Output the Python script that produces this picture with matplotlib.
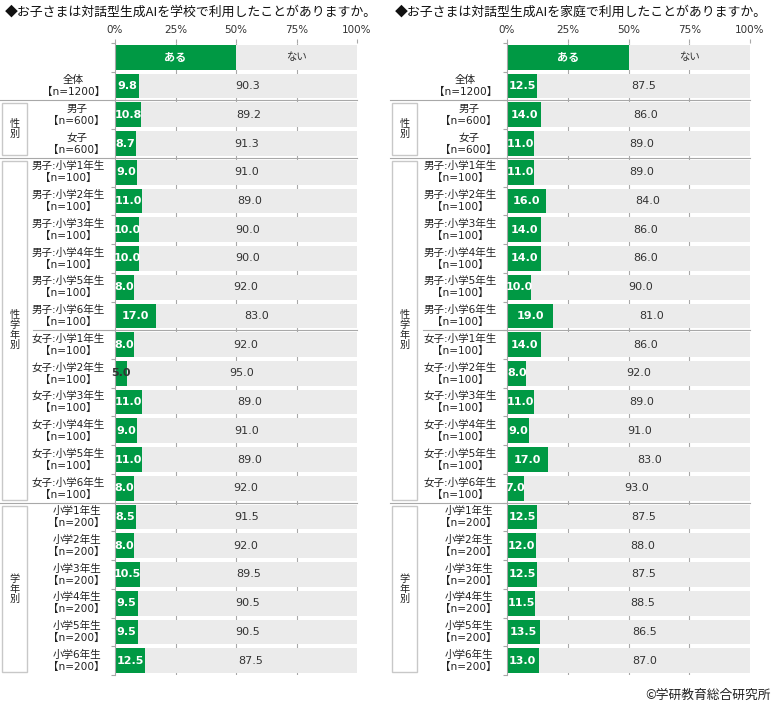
import matplotlib
matplotlib.use('Agg')
import matplotlib.pyplot as plt
from matplotlib.patches import Rectangle
from matplotlib.lines import Line2D
import matplotlib.transforms as mtransforms

plt.rcParams['font.family'] = ['Noto Sans CJK JP', 'DejaVu Sans']

W, H = 777, 708

categories = [
    '全体\n【n=1200】', '男子\n【n=600】', '女子\n【n=600】',
    '男子:小学1年生\n【n=100】', '男子:小学2年生\n【n=100】', '男子:小学3年生\n【n=100】',
    '男子:小学4年生\n【n=100】', '男子:小学5年生\n【n=100】', '男子:小学6年生\n【n=100】',
    '女子:小学1年生\n【n=100】', '女子:小学2年生\n【n=100】', '女子:小学3年生\n【n=100】',
    '女子:小学4年生\n【n=100】', '女子:小学5年生\n【n=100】', '女子:小学6年生\n【n=100】',
    '小学1年生\n【n=200】', '小学2年生\n【n=200】', '小学3年生\n【n=200】',
    '小学4年生\n【n=200】', '小学5年生\n【n=200】', '小学6年生\n【n=200】',
]
school_yes = [9.8, 10.8, 8.7, 9.0, 11.0, 10.0, 10.0, 8.0, 17.0,
              8.0, 5.0, 11.0, 9.0, 11.0, 8.0, 8.5, 8.0, 10.5, 9.5, 9.5, 12.5]
school_no = [90.3, 89.2, 91.3, 91.0, 89.0, 90.0, 90.0, 92.0, 83.0,
             92.0, 95.0, 89.0, 91.0, 89.0, 92.0, 91.5, 92.0, 89.5, 90.5, 90.5, 87.5]
home_yes = [12.5, 14.0, 11.0, 11.0, 16.0, 14.0, 14.0, 10.0, 19.0,
            14.0, 8.0, 11.0, 9.0, 17.0, 7.0, 12.5, 12.0, 12.5, 11.5, 13.5, 13.0]
home_no = [87.5, 86.0, 89.0, 89.0, 84.0, 86.0, 86.0, 90.0, 81.0,
           86.0, 92.0, 89.0, 91.0, 83.0, 93.0, 87.5, 88.0, 87.5, 88.5, 86.5, 87.0]

header_labels = ['ある', 'ない']
header_shares = [50, 50]
xticks = [0, 25, 50, 75, 100]
xtick_labels = ['0%', '25%', '50%', '75%', '100%']
titles = ['◆お子さまは対話型生成AIを学校で利用したことがありますか。',
          '◆お子さまは対話型生成AIを家庭で利用したことがありますか。']
# (label, first row index, last row index)
groups = [('性\n別', 1, 2), ('性\n学\n年\n別', 3, 14), ('学\n年\n別', 15, 20)]
full_separators = [0, 2, 14]     # line after these rows, full width
partial_separators = [8]         # line after these rows, from label area

GREEN = '#009944'
GRAY = '#EBEBEB'
LINE = '#A8A8A8'
TXT = '#333333'
NUMFONT = ['DejaVu Sans']
LABFONT = ['DejaVu Sans', 'Noto Sans CJK JP']

fig = plt.figure(figsize=(W / 100, H / 100), dpi=100)


def fx(px):
    return px / W


def fy(py):
    return 1 - py / H


TOP, BOTTOM = 43, 675


def panel(offset, ax_left, ax_width, yes, no, title):
    ax = fig.add_axes([fx(ax_left), fy(BOTTOM), fx(ax_width), (BOTTOM - TOP) / H])
    n = len(yes)
    ys = list(range(1, n + 1))
    bh = 0.86
    # grid lines behind bars
    ax.vlines(xticks[1:-1], -0.5, n + 0.5, color=LINE, lw=0.8, zorder=0)
    # header row
    ax.barh(0, header_shares[0], height=bh, color=GREEN, zorder=2)
    ax.barh(0, header_shares[1], left=header_shares[0], height=bh, color=GRAY, zorder=2)
    ax.text(header_shares[0] / 2, 0, header_labels[0], ha='center', va='center',
            color='white', fontsize=8, fontweight='bold', zorder=3)
    ax.text(header_shares[0] + header_shares[1] / 2, 0, header_labels[1], ha='center',
            va='center', color=TXT, fontsize=7.5, zorder=3)
    # data rows
    ax.barh(ys, yes, height=bh, color=GREEN, zorder=2)
    ax.barh(ys, no, left=yes, height=bh, color=GRAY, zorder=2)
    for y, a, b in zip(ys, yes, no):
        ax.text(a / 2, y, f'{a:.1f}', ha='center', va='center', fontsize=8,
                family=NUMFONT, fontweight='bold',
                color='white' if a >= 6 else TXT, zorder=3)
        ax.text(a + b / 2, y, f'{b:.1f}', ha='center', va='center', fontsize=8,
                family=NUMFONT, color=TXT, zorder=3)
    ax.set_xlim(0, 100)
    ax.set_ylim(n + 0.5, -0.5)
    ax.xaxis.tick_top()
    ax.set_xticks(xticks)
    ax.set_xticklabels(xtick_labels, family=NUMFONT)
    ax.tick_params(axis='x', direction='out', length=3, color=LINE, labelsize=7.5,
                   labelcolor=TXT, pad=3, width=0.8)
    ax.set_yticks([])
    ax.set_yticks([i + 0.5 for i in range(-1, n + 1)], minor=True)
    ax.tick_params(axis='y', which='minor', direction='out', length=3, color=LINE, width=0.8)
    for s in ['top', 'right', 'bottom']:
        ax.spines[s].set_visible(False)
    ax.spines['left'].set_color(LINE)
    ax.spines['left'].set_linewidth(0.8)
    ax.patch.set_alpha(0)

    tr = mtransforms.blended_transform_factory(fig.transFigure, ax.transData)
    # category labels
    for y, lab in zip(ys, categories):
        ax.text(fx(ax_left - 10), y, lab, transform=tr, ha='right', va='center',
                multialignment='center', fontsize=7.6, family=LABFONT,
                color='#222222', linespacing=1.25)
    # separators
    for r in full_separators:
        fig.add_artist(Line2D([fx(offset), fx(ax_left + ax_width)], [r + 1.5, r + 1.5],
                              transform=tr, color=LINE, lw=0.8))
    for r in partial_separators:
        fig.add_artist(Line2D([fx(offset + 33), fx(ax_left + ax_width)], [r + 1.5, r + 1.5],
                              transform=tr, color=LINE, lw=0.8))
    # group boxes
    for lab, a, b in groups:
        y0 = a + 1 - 0.5 + 0.1
        y1 = b + 1 + 0.5 - 0.1
        fig.add_artist(Rectangle((fx(offset + 2), y0), fx(25), y1 - y0, transform=tr,
                                 fill=False, edgecolor='#C8C8C8', lw=1))
        ax.text(fx(offset + 14.5), (y0 + y1) / 2, lab, transform=tr, ha='center',
                va='center', fontsize=7.3, color='#222222', linespacing=1.0)
    fig.text(fx(offset + 5), fy(12), title, ha='left', va='center', fontsize=9.3,
             color='#111111')
    return ax


panel(0, 115, 242, school_yes, school_no, titles[0])
panel(390, 507, 243, home_yes, home_no, titles[1])

fig.text(fx(771), fy(695), '©学研教育総合研究所', ha='right', va='center',
         fontsize=9.2, color='#222222')

fig.savefig('out.png', dpi=100, facecolor='white')
